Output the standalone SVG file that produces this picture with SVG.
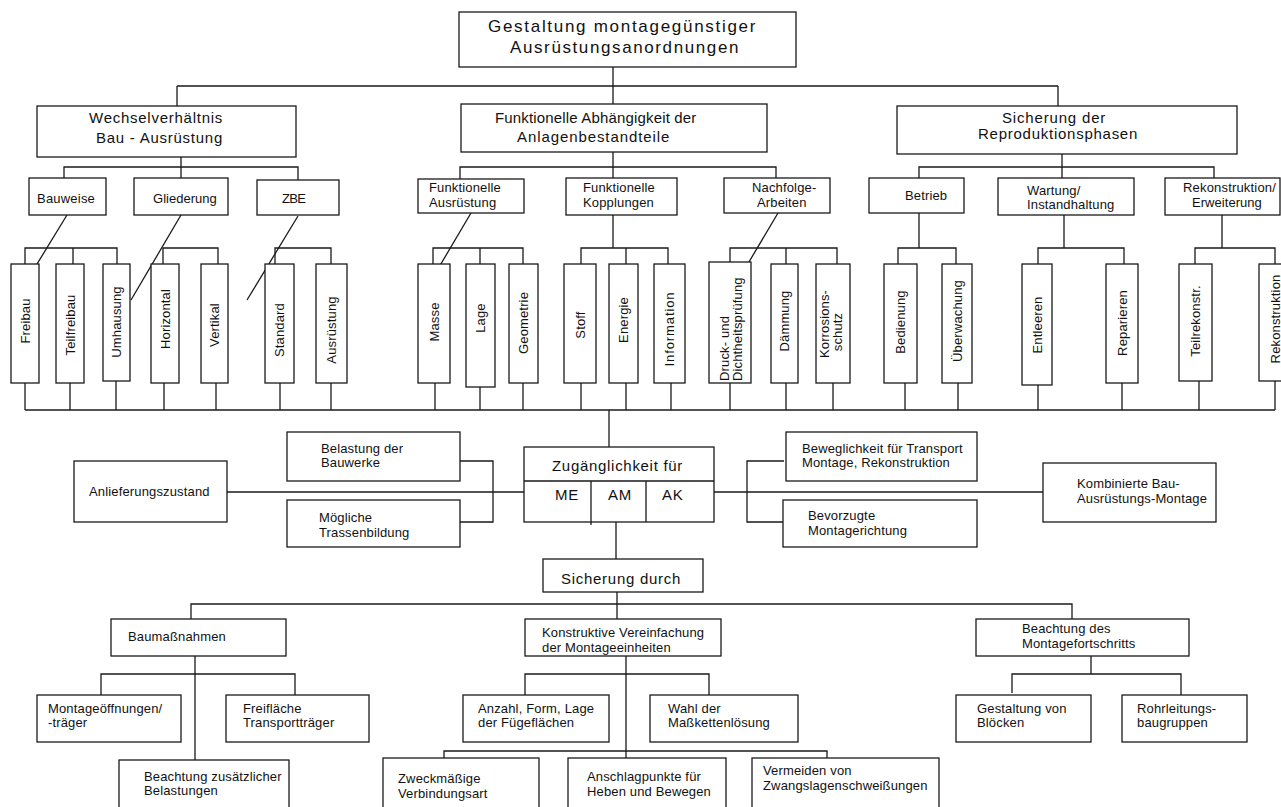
<svg xmlns="http://www.w3.org/2000/svg" width="1281" height="807" viewBox="0 0 1281 807">
<style>
.b{fill:#fff;stroke:#1a1a1a;stroke-width:1.3}
.c{fill:none;stroke:#1a1a1a;stroke-width:1.3}
text{font-family:"Liberation Sans",Arial,sans-serif;fill:#111}
.s{font-size:13px;letter-spacing:0.15px}
.m{font-size:15px;letter-spacing:0.7px}
.l{font-size:17px;letter-spacing:1.6px}
.v{font-size:13px;letter-spacing:0.15px;text-anchor:middle}
.vs{font-size:13px;letter-spacing:0.15px}
</style>
<rect width="1281" height="807" fill="#fff"/>
<g id="connectors" class="c">
<path d="M613,67V104M177,86H1058M177,86V106M1058,86V106"/>
<path d="M181,157V178M64,178V167H298V180"/>
<path d="M67,215L15,300M181,215L131,300M298,216L247,300"/>
<path d="M25,264V248H117V264M73,248V264"/>
<path d="M163,264V248H218V264"/>
<path d="M275,267V248H331V264"/>
<path d="M460,179V167H776V178M613,152V178"/>
<path d="M471,213L419,301M778,213L727,299"/>
<path d="M433,264V248H523V264M480,248V264"/>
<path d="M613,215V248M581,264V248H668V264M626,248V264"/>
<path d="M730,262V248H837V264M786,248V264"/>
<path d="M919,178V167H1214V178M1062,154V178"/>
<path d="M919,213V248M898,264V248H956V264"/>
<path d="M1064,215V248M1038,264V248H1124V264"/>
<path d="M1222,215V248M1195,264V248H1275V264"/>
<path d="M25,410H1275"/>
<path d="M25,383V410M70,383V410M116,381V410M164,383V410M216,383V410M280,383V410M331,383V410M435,383V410M480,387V410M523,383V410M581,383V410M626,383V410M671,383V410M730,383V410M786,383V410M833,383V410M905,383V410M958,383V410M1038,385V410M1122,383V410M1199,381V410M1275,381V410"/>
<path d="M609,410V447"/>
<path d="M227,492H524M460,461H493V522H460"/>
<path d="M714,492H1043M784,461H747V522H783"/>
<path d="M616,522V559"/>
<path d="M617,592V619M191,619V604H1072V619"/>
<path d="M195,656V760M101,695V674H295V695"/>
<path d="M626,656V758M525,696V674H709V695"/>
<path d="M444,758V751H827V758"/>
<path d="M1091,656V674M1012,693V674H1181V697"/>
</g>
<g id="n-top"><rect class="b" x="459" y="12" width="337" height="55"/>
<text class="l" x="488" y="32" textLength="269" lengthAdjust="spacing">Gestaltung  montagegünstiger</text>
<text class="l" x="510" y="53" textLength="230" lengthAdjust="spacing">Ausrüstungsanordnungen</text></g>
<g id="n-wechsel"><rect class="b" x="37" y="106" width="259" height="51"/>
<text class="m" x="89" y="123" textLength="134" lengthAdjust="spacing">Wechselverhältnis</text>
<text class="m" x="96" y="143" textLength="127" lengthAdjust="spacing">Bau - Ausrüstung</text></g>
<g id="n-funkt"><rect class="b" x="461" y="104" width="306" height="48"/>
<text class="m" x="495" y="123" textLength="202" lengthAdjust="spacing">Funktionelle Abhängigkeit  der</text>
<text class="m" x="517" y="142" textLength="153" lengthAdjust="spacing">Anlagenbestandteile</text></g>
<g id="n-sich"><rect class="b" x="897" y="106" width="340" height="48"/>
<text class="m" x="1002" y="123" textLength="104" lengthAdjust="spacing">Sicherung der</text>
<text class="m" x="978" y="139" textLength="160" lengthAdjust="spacing">Reproduktionsphasen</text></g>
<g id="n-bauweise"><rect class="b" x="29" y="178" width="77" height="37"/><text class="s" x="37" y="203" textLength="58" lengthAdjust="spacing">Bauweise</text></g>
<g id="n-gliederung"><rect class="b" x="134" y="178" width="94" height="37"/><text class="s" x="153" y="203" textLength="64" lengthAdjust="spacing">Gliederung</text></g>
<g id="n-zbe"><rect class="b" x="257" y="180" width="82" height="35"/><text class="s" x="282" y="203" textLength="24" lengthAdjust="spacing">ZBE</text></g>
<g id="n-fa"><rect class="b" x="418" y="179" width="106" height="34"/><text class="s" x="429" y="192">Funktionelle</text><text class="s" x="429" y="207">Ausrüstung</text></g>
<g id="n-fk"><rect class="b" x="566" y="178" width="111" height="37"/><text class="s" x="583" y="192">Funktionelle</text><text class="s" x="583" y="207">Kopplungen</text></g>
<g id="n-na"><rect class="b" x="724" y="178" width="106" height="35"/><text class="s" x="752" y="192">Nachfolge-</text><text class="s" x="757" y="207">Arbeiten</text></g>
<g id="n-betrieb"><rect class="b" x="869" y="178" width="95" height="35"/><text class="s" x="905" y="200">Betrieb</text></g>
<g id="n-wartung"><rect class="b" x="998" y="178" width="136" height="37"/><text class="s" x="1027" y="195">Wartung/</text><text class="s" x="1027" y="209">Instandhaltung</text></g>
<g id="n-rekerw"><rect class="b" x="1165" y="178" width="115" height="37"/><text class="s" x="1183" y="192" textLength="93" lengthAdjust="spacing">Rekonstruktion/</text><text class="s" x="1192" y="207" textLength="70" lengthAdjust="spacing">Erweiterung</text></g>
<g id="n-freibau"><rect class="b" x="11" y="264" width="28" height="119"/><text class="v" transform="translate(30,321) rotate(-90)">Freibau</text></g>
<g id="n-teilfreibau"><rect class="b" x="56" y="264" width="28" height="119"/><text class="v" transform="translate(75,325) rotate(-90)">Teilfreibau</text></g>
<g id="n-umhausung"><rect class="b" x="103" y="264" width="27" height="117"/><text class="v" transform="translate(121,322) rotate(-90)">Umhausung</text></g>
<g id="n-horizontal"><rect class="b" x="151" y="264" width="28" height="119"/><text class="v" transform="translate(169.5,319) rotate(-90)">Horizontal</text></g>
<g id="n-vertikal"><rect class="b" x="201" y="264" width="27" height="119"/><text class="v" transform="translate(219,325) rotate(-90)">Vertikal</text></g>
<g id="n-standard"><rect class="b" x="265" y="264" width="29" height="119"/><text class="v" transform="translate(284,330) rotate(-90)">Standard</text></g>
<g id="n-ausruestung"><rect class="b" x="316" y="264" width="31" height="119"/><text class="v" transform="translate(336,330) rotate(-90)">Ausrüstung</text></g>
<g id="n-masse"><rect class="b" x="418" y="264" width="32" height="119"/><text class="v" transform="translate(439,322) rotate(-90)">Masse</text></g>
<g id="n-lage"><rect class="b" x="466" y="264" width="29" height="123"/><text class="v" transform="translate(485,318) rotate(-90)">Lage</text></g>
<g id="n-geometrie"><rect class="b" x="509" y="264" width="29" height="119"/><text class="v" transform="translate(528,323) rotate(-90)">Geometrie</text></g>
<g id="n-stoff"><rect class="b" x="564" y="264" width="32" height="119"/><text class="v" transform="translate(584.5,325) rotate(-90)">Stoff</text></g>
<g id="n-energie"><rect class="b" x="609" y="264" width="29" height="119"/><text class="v" transform="translate(628,320) rotate(-90)">Energie</text></g>
<g id="n-information"><rect class="b" x="654" y="264" width="31" height="119"/><text class="v" transform="translate(674,329) rotate(-90)" style="letter-spacing:0.9px">Information</text></g>
<g id="n-druck"><rect class="b" x="709" y="262" width="42" height="121"/><text class="vs" transform="translate(729,381) rotate(-90)">Druck- und</text><text class="vs" transform="translate(742,381) rotate(-90)">Dichtheitsprüfung</text></g>
<g id="n-daemmung"><rect class="b" x="771" y="264" width="27" height="119"/><text class="v" transform="translate(789,321) rotate(-90)">Dämmung</text></g>
<g id="n-korrosion"><rect class="b" x="816" y="264" width="34" height="119"/><text class="v" transform="translate(829,324) rotate(-90)">Korrosions-</text><text class="v" transform="translate(842,332) rotate(-90)">schutz</text></g>
<g id="n-bedienung"><rect class="b" x="884" y="264" width="33" height="119"/><text class="v" transform="translate(905,322) rotate(-90)">Bedienung</text></g>
<g id="n-ueberwachung"><rect class="b" x="942" y="264" width="30" height="119"/><text class="v" transform="translate(961.5,321) rotate(-90)">Überwachung</text></g>
<g id="n-entleeren"><rect class="b" x="1022" y="264" width="30" height="121"/><text class="v" transform="translate(1041.5,325) rotate(-90)">Entleeren</text></g>
<g id="n-reparieren"><rect class="b" x="1106" y="264" width="32" height="119"/><text class="v" transform="translate(1126.5,323) rotate(-90)">Reparieren</text></g>
<g id="n-teilrekonstr"><rect class="b" x="1179" y="264" width="33" height="117"/><text class="v" transform="translate(1200,321) rotate(-90)">Teilrekonstr.</text></g>
<g id="n-rekonstruktion"><rect class="b" x="1259" y="264" width="32" height="117"/><text class="v" transform="translate(1280,319) rotate(-90)">Rekonstruktion</text></g>
<g id="n-anlieferung"><rect class="b" x="74" y="461" width="153" height="61"/><text class="s" x="89" y="496">Anlieferungszustand</text></g>
<g id="n-belastung"><rect class="b" x="287" y="432" width="173" height="49"/><text class="s" x="321" y="453">Belastung der</text><text class="s" x="321" y="467">Bauwerke</text></g>
<g id="n-trassen"><rect class="b" x="287" y="500" width="173" height="47"/><text class="s" x="319" y="522">Mögliche</text><text class="s" x="319" y="537">Trassenbildung</text></g>
<g id="n-zugang"><rect class="b" x="524" y="447" width="190" height="75"/><path class="c" d="M524,481H714M591,481V525M646,481V522"/>
<text class="m" x="552" y="471" textLength="131" lengthAdjust="spacing">Zugänglichkeit für</text>
<text class="m" x="555" y="500">ME</text><text class="m" x="608" y="500">AM</text><text class="m" x="662" y="500">AK</text></g>
<g id="n-sicherung-durch"><rect class="b" x="543" y="559" width="160" height="33"/><text class="m" x="561" y="584" textLength="120" lengthAdjust="spacing">Sicherung durch</text></g>
<g id="n-beweglich"><rect class="b" x="786" y="432" width="191" height="49"/><text class="s" x="802" y="453">Beweglichkeit für Transport</text><text class="s" x="802" y="467">Montage, Rekonstruktion</text></g>
<g id="n-bevorzugt"><rect class="b" x="783" y="500" width="194" height="47"/><text class="s" x="808" y="520">Bevorzugte</text><text class="s" x="808" y="535">Montagerichtung</text></g>
<g id="n-kombiniert"><rect class="b" x="1043" y="463" width="173" height="59"/><text class="s" x="1077" y="488">Kombinierte Bau-</text><text class="s" x="1077" y="503">Ausrüstungs-Montage</text></g>
<g id="n-bau"><rect class="b" x="111" y="619" width="175" height="37"/><text class="s" x="128" y="641">Baumaßnahmen</text></g>
<g id="n-oeffnung"><rect class="b" x="37" y="695" width="144" height="47"/><text class="s" x="48" y="713">Montageöffnungen/</text><text class="s" x="48" y="727">-träger</text></g>
<g id="n-freiflaeche"><rect class="b" x="226" y="695" width="143" height="47"/><text class="s" x="243" y="713">Freifläche</text><text class="s" x="243" y="727">Transportträger</text></g>
<g id="n-zusatz"><rect class="b" x="119" y="760" width="170" height="60"/><text class="s" x="144" y="781">Beachtung zusätzlicher</text><text class="s" x="144" y="795">Belastungen</text></g>
<g id="n-konstr"><rect class="b" x="525" y="619" width="196" height="37"/><text class="s" x="542" y="637">Konstruktive Vereinfachung</text><text class="s" x="542" y="652">der Montageeinheiten</text></g>
<g id="n-anzahl"><rect class="b" x="463" y="695" width="146" height="47"/><text class="s" x="478" y="713">Anzahl, Form, Lage</text><text class="s" x="478" y="727">der Fügeflächen</text></g>
<g id="n-wahl"><rect class="b" x="650" y="695" width="148" height="47"/><text class="s" x="668" y="713">Wahl der</text><text class="s" x="668" y="727">Maßkettenlösung</text></g>
<g id="n-zweck"><rect class="b" x="383" y="758" width="156" height="60"/><text class="s" x="398" y="783">Zweckmäßige</text><text class="s" x="398" y="798">Verbindungsart</text></g>
<g id="n-anschlag"><rect class="b" x="568" y="758" width="158" height="60"/><text class="s" x="587" y="781">Anschlagpunkte für</text><text class="s" x="587" y="796">Heben und Bewegen</text></g>
<g id="n-vermeiden"><rect class="b" x="752" y="758" width="187" height="60"/><text class="s" x="763" y="775">Vermeiden von</text><text class="s" x="763" y="790">Zwangslagenschweißungen</text></g>
<g id="n-fortschritt"><rect class="b" x="976" y="619" width="213" height="37"/><text class="s" x="1022" y="633">Beachtung des</text><text class="s" x="1022" y="648">Montagefortschritts</text></g>
<g id="n-bloecke"><rect class="b" x="956" y="695" width="135" height="47"/><text class="s" x="977" y="713">Gestaltung von</text><text class="s" x="977" y="727">Blöcken</text></g>
<g id="n-rohr"><rect class="b" x="1122" y="695" width="125" height="47"/><text class="s" x="1137" y="713">Rohrleitungs-</text><text class="s" x="1137" y="727">baugruppen</text></g>
</svg>
